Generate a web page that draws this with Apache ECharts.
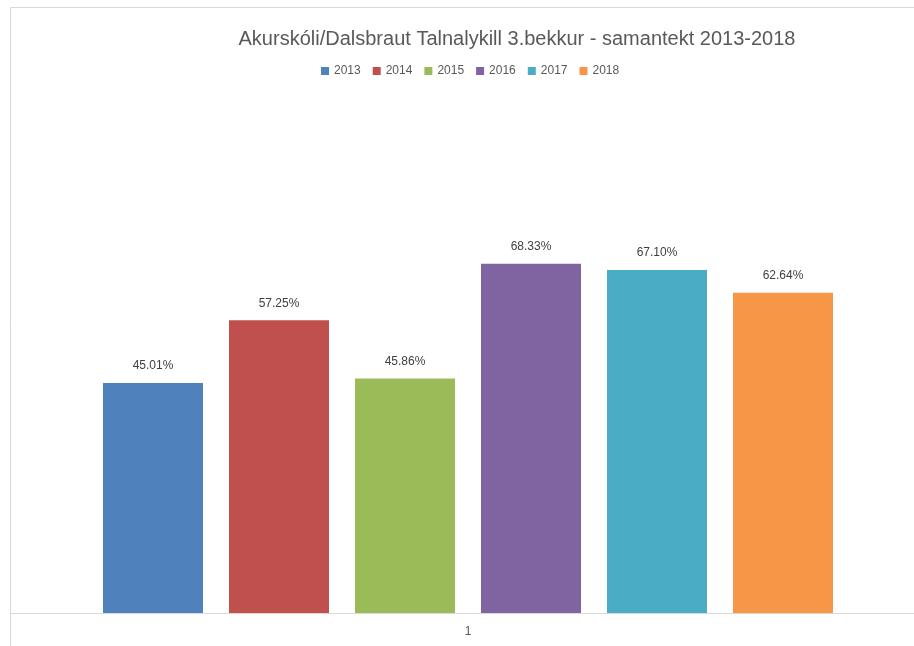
<!DOCTYPE html>
<html>
<head>
<meta charset="utf-8">
<script src="https://cdn.jsdelivr.net/npm/echarts@6/dist/echarts.min.js"></script>
<style>
html, body { margin: 0; padding: 0; background: #fff; }
#container { width: 914px; height: 646px; }
</style>
</head>
<body>
<div id="container"></div>
<script>
var categories = ['1'];
var years = ['2013', '2014', '2015', '2016', '2017', '2018'];
var values = [45.01, 57.25, 45.86, 68.33, 67.10, 62.64];
var colors = ['#4F81BD', '#C0504D', '#9BBB59', '#8064A2', '#4BACC6', '#F79646'];

var dom = document.getElementById("container");
var myChart = echarts.init(dom);

var series = [];
for (var i = 0; i < years.length; i++) {
    series.push({
        name: years[i],
        type: 'bar',
        data: [values[i]],
        barWidth: 100,
        barGap: '26%',
        itemStyle: { color: colors[i] },
        label: {
            show: true,
            position: 'top',
            distance: 11,
            color: '#404040',
            fontSize: 12,
            fontFamily: 'Liberation Sans',
            formatter: function (p) { return p.value.toFixed(2) + '%'; }
        }
    });
}

var option = {
    backgroundColor: '#fff',
    animation: false,
    title: {
        text: 'Akurskóli/Dalsbraut Talnalykill 3.bekkur - samantekt 2013-2018',
        left: 512,
        textAlign: 'center',
        top: 24,
        textStyle: {
            color: '#595959',
            fontSize: 20,
            fontWeight: 'normal',
            fontFamily: 'Liberation Sans'
        }
    },
    legend: {
        top: 60,
        left: 316,
        itemWidth: 8,
        itemHeight: 8,
        itemGap: 12,
        icon: 'rect',
        textStyle: { color: '#595959', fontSize: 12, fontFamily: 'Liberation Sans' },
        data: years
    },
    graphic: [{
        type: 'rect',
        shape: { x: 10.5, y: 7.5, width: 920, height: 660 },
        style: { fill: 'none', stroke: '#d9d9d9', lineWidth: 1 },
        z: -1
    }, {
        // axis line continues to the chart's left edge, as in the source
        type: 'line',
        shape: { x1: 10, y1: 613.5, x2: 23, y2: 613.5 },
        style: { stroke: '#d9d9d9', lineWidth: 1 }
    }],
    grid: { left: 22, right: 0, top: 204, bottom: 33 },
    xAxis: {
        type: 'category',
        data: categories,
        axisLine: { lineStyle: { color: '#d9d9d9', width: 1 } },
        axisTick: { show: false },
        axisLabel: { color: '#595959', fontSize: 12, margin: 13, fontFamily: 'Liberation Sans' }
    },
    yAxis: {
        type: 'value',
        min: 0,
        max: 80,
        show: false,
        splitLine: { show: false }
    },
    series: series
};

myChart.setOption(option, true);
</script>
</body>
</html>
